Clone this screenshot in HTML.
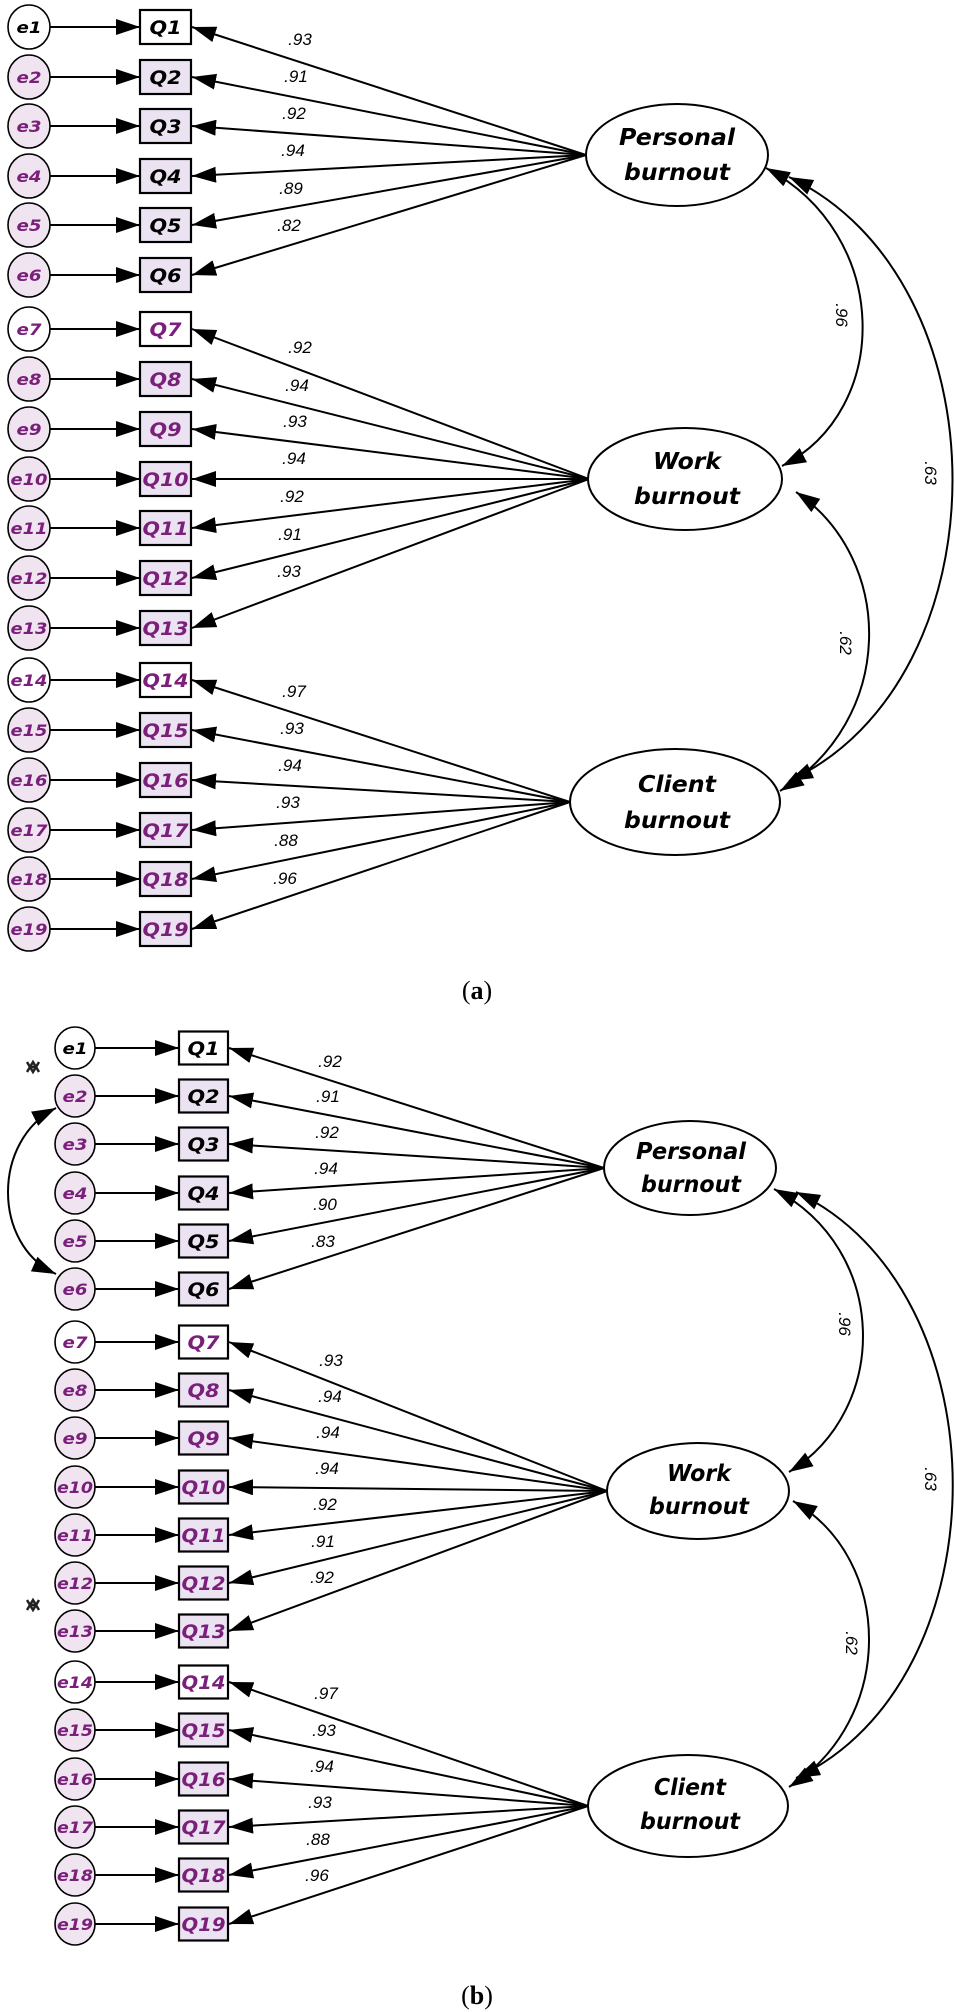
<!DOCTYPE html>
<html><head><meta charset="utf-8"><style>
html,body{margin:0;padding:0;background:#fff;}
svg{display:block}
.e{font-family:"DejaVu Sans","Liberation Sans",sans-serif;font-weight:bold;font-style:italic;font-size:16px;text-anchor:middle}
.q{font-family:"DejaVu Sans","Liberation Sans",sans-serif;font-weight:bold;font-style:italic;font-size:19px;text-anchor:middle}
.l{font-family:"Liberation Sans",sans-serif;font-style:italic;font-size:17px;text-anchor:middle}
.f{font-family:"DejaVu Sans","Liberation Sans",sans-serif;font-weight:bold;font-style:italic;font-size:23px;text-anchor:middle}
.c{font-family:"Liberation Serif",serif;font-size:26px;text-anchor:middle}
.p{fill:#7a1f7a}
.ce{fill:#f0e4f0;stroke:#000;stroke-width:1.6}
.cw{fill:#fff;stroke:#000;stroke-width:1.6}
.bf{fill:#ebe3f1;stroke:#000;stroke-width:2.2}
.bw{fill:#fff;stroke:#000;stroke-width:2.2}
.a{stroke:#000;stroke-width:2;fill:none;marker-end:url(#ah)}
.v{stroke:#000;stroke-width:2;fill:none;marker-end:url(#ah);marker-start:url(#ah)}
.el{fill:#fff;stroke:#000;stroke-width:2}
</style></head><body>
<svg width="955" height="2012" viewBox="0 0 955 2012" xmlns="http://www.w3.org/2000/svg">
<defs><marker id="ah" viewBox="0 0 24 16" markerWidth="24" markerHeight="16" refX="24" refY="8" orient="auto-start-reverse" markerUnits="userSpaceOnUse"><path d="M0,0L24,8L0,16z" fill="#000"/></marker></defs>

<!-- ===== (a) ===== -->
<g>
<line class="a" x1="586" y1="155" x2="192" y2="27"/>
<line class="a" x1="586" y1="155" x2="192" y2="77"/>
<line class="a" x1="586" y1="155" x2="192" y2="126"/>
<line class="a" x1="586" y1="155" x2="192" y2="176"/>
<line class="a" x1="586" y1="155" x2="192" y2="225"/>
<line class="a" x1="586" y1="155" x2="192" y2="275"/>
<line class="a" x1="589" y1="479" x2="192" y2="329"/>
<line class="a" x1="589" y1="479" x2="192" y2="379"/>
<line class="a" x1="589" y1="479" x2="192" y2="429"/>
<line class="a" x1="589" y1="479" x2="192" y2="479"/>
<line class="a" x1="589" y1="479" x2="192" y2="528"/>
<line class="a" x1="589" y1="479" x2="192" y2="578"/>
<line class="a" x1="589" y1="479" x2="192" y2="628"/>
<line class="a" x1="570" y1="802" x2="192" y2="680"/>
<line class="a" x1="570" y1="802" x2="192" y2="730"/>
<line class="a" x1="570" y1="802" x2="192" y2="780"/>
<line class="a" x1="570" y1="802" x2="192" y2="830"/>
<line class="a" x1="570" y1="802" x2="192" y2="879"/>
<line class="a" x1="570" y1="802" x2="192" y2="929"/>
<text class="l" x="300" y="45">.93</text>
<text class="l" x="296" y="82">.91</text>
<text class="l" x="294" y="119">.92</text>
<text class="l" x="293" y="156">.94</text>
<text class="l" x="291" y="194">.89</text>
<text class="l" x="289" y="231">.82</text>
<text class="l" x="300" y="353">.92</text>
<text class="l" x="297" y="391">.94</text>
<text class="l" x="295" y="427">.93</text>
<text class="l" x="294" y="464">.94</text>
<text class="l" x="292" y="502">.92</text>
<text class="l" x="290" y="540">.91</text>
<text class="l" x="289" y="577">.93</text>
<text class="l" x="294" y="697">.97</text>
<text class="l" x="292" y="734">.93</text>
<text class="l" x="290" y="771">.94</text>
<text class="l" x="288" y="808">.93</text>
<text class="l" x="286" y="846">.88</text>
<text class="l" x="285" y="884">.96</text>
<line class="a" x1="50" y1="27" x2="140" y2="27"/><line class="a" x1="50" y1="77" x2="140" y2="77"/><line class="a" x1="50" y1="126" x2="140" y2="126"/><line class="a" x1="50" y1="176" x2="140" y2="176"/><line class="a" x1="50" y1="225" x2="140" y2="225"/><line class="a" x1="50" y1="275" x2="140" y2="275"/>
<line class="a" x1="50" y1="329" x2="140" y2="329"/><line class="a" x1="50" y1="379" x2="140" y2="379"/><line class="a" x1="50" y1="429" x2="140" y2="429"/><line class="a" x1="50" y1="479" x2="140" y2="479"/><line class="a" x1="50" y1="528" x2="140" y2="528"/><line class="a" x1="50" y1="578" x2="140" y2="578"/><line class="a" x1="50" y1="628" x2="140" y2="628"/>
<line class="a" x1="50" y1="680" x2="140" y2="680"/><line class="a" x1="50" y1="730" x2="140" y2="730"/><line class="a" x1="50" y1="780" x2="140" y2="780"/><line class="a" x1="50" y1="830" x2="140" y2="830"/><line class="a" x1="50" y1="879" x2="140" y2="879"/><line class="a" x1="50" y1="929" x2="140" y2="929"/>
<ellipse class="cw" cx="29" cy="27" rx="21" ry="22"/><text class="e" x="29" y="33" textLength="25" lengthAdjust="spacingAndGlyphs">e1</text>
<ellipse class="ce" cx="29" cy="77" rx="21" ry="22"/><text class="e p" x="29" y="83" textLength="25" lengthAdjust="spacingAndGlyphs">e2</text>
<ellipse class="ce" cx="29" cy="126" rx="21" ry="22"/><text class="e p" x="29" y="132" textLength="25" lengthAdjust="spacingAndGlyphs">e3</text>
<ellipse class="ce" cx="29" cy="176" rx="21" ry="22"/><text class="e p" x="29" y="182" textLength="25" lengthAdjust="spacingAndGlyphs">e4</text>
<ellipse class="ce" cx="29" cy="225" rx="21" ry="22"/><text class="e p" x="29" y="231" textLength="25" lengthAdjust="spacingAndGlyphs">e5</text>
<ellipse class="ce" cx="29" cy="275" rx="21" ry="22"/><text class="e p" x="29" y="281" textLength="25" lengthAdjust="spacingAndGlyphs">e6</text>
<ellipse class="cw" cx="29" cy="329" rx="21" ry="22"/><text class="e p" x="29" y="335" textLength="25" lengthAdjust="spacingAndGlyphs">e7</text>
<ellipse class="ce" cx="29" cy="379" rx="21" ry="22"/><text class="e p" x="29" y="385" textLength="25" lengthAdjust="spacingAndGlyphs">e8</text>
<ellipse class="ce" cx="29" cy="429" rx="21" ry="22"/><text class="e p" x="29" y="435" textLength="25" lengthAdjust="spacingAndGlyphs">e9</text>
<ellipse class="ce" cx="29" cy="479" rx="21" ry="22"/><text class="e p" x="29" y="485" textLength="37" lengthAdjust="spacingAndGlyphs">e10</text>
<ellipse class="ce" cx="29" cy="528" rx="21" ry="22"/><text class="e p" x="29" y="534" textLength="37" lengthAdjust="spacingAndGlyphs">e11</text>
<ellipse class="ce" cx="29" cy="578" rx="21" ry="22"/><text class="e p" x="29" y="584" textLength="37" lengthAdjust="spacingAndGlyphs">e12</text>
<ellipse class="ce" cx="29" cy="628" rx="21" ry="22"/><text class="e p" x="29" y="634" textLength="37" lengthAdjust="spacingAndGlyphs">e13</text>
<ellipse class="cw" cx="29" cy="680" rx="21" ry="22"/><text class="e p" x="29" y="686" textLength="37" lengthAdjust="spacingAndGlyphs">e14</text>
<ellipse class="ce" cx="29" cy="730" rx="21" ry="22"/><text class="e p" x="29" y="736" textLength="37" lengthAdjust="spacingAndGlyphs">e15</text>
<ellipse class="ce" cx="29" cy="780" rx="21" ry="22"/><text class="e p" x="29" y="786" textLength="37" lengthAdjust="spacingAndGlyphs">e16</text>
<ellipse class="ce" cx="29" cy="830" rx="21" ry="22"/><text class="e p" x="29" y="836" textLength="37" lengthAdjust="spacingAndGlyphs">e17</text>
<ellipse class="ce" cx="29" cy="879" rx="21" ry="22"/><text class="e p" x="29" y="885" textLength="37" lengthAdjust="spacingAndGlyphs">e18</text>
<ellipse class="ce" cx="29" cy="929" rx="21" ry="22"/><text class="e p" x="29" y="935" textLength="37" lengthAdjust="spacingAndGlyphs">e19</text>
<rect class="bw" x="140" y="10" width="51" height="34"/><text class="q" x="165.5" y="34" textLength="32" lengthAdjust="spacingAndGlyphs">Q1</text>
<rect class="bf" x="140" y="60" width="51" height="34"/><text class="q" x="165.5" y="84" textLength="32" lengthAdjust="spacingAndGlyphs">Q2</text>
<rect class="bf" x="140" y="109" width="51" height="34"/><text class="q" x="165.5" y="133" textLength="32" lengthAdjust="spacingAndGlyphs">Q3</text>
<rect class="bf" x="140" y="159" width="51" height="34"/><text class="q" x="165.5" y="183" textLength="32" lengthAdjust="spacingAndGlyphs">Q4</text>
<rect class="bf" x="140" y="208" width="51" height="34"/><text class="q" x="165.5" y="232" textLength="32" lengthAdjust="spacingAndGlyphs">Q5</text>
<rect class="bf" x="140" y="258" width="51" height="34"/><text class="q" x="165.5" y="282" textLength="32" lengthAdjust="spacingAndGlyphs">Q6</text>
<rect class="bw" x="140" y="312" width="51" height="34"/><text class="q p" x="165.5" y="336" textLength="32" lengthAdjust="spacingAndGlyphs">Q7</text>
<rect class="bf" x="140" y="362" width="51" height="34"/><text class="q p" x="165.5" y="386" textLength="32" lengthAdjust="spacingAndGlyphs">Q8</text>
<rect class="bf" x="140" y="412" width="51" height="34"/><text class="q p" x="165.5" y="436" textLength="32" lengthAdjust="spacingAndGlyphs">Q9</text>
<rect class="bf" x="140" y="462" width="51" height="34"/><text class="q p" x="165.5" y="486" textLength="46" lengthAdjust="spacingAndGlyphs">Q10</text>
<rect class="bf" x="140" y="511" width="51" height="34"/><text class="q p" x="165.5" y="535" textLength="46" lengthAdjust="spacingAndGlyphs">Q11</text>
<rect class="bf" x="140" y="561" width="51" height="34"/><text class="q p" x="165.5" y="585" textLength="46" lengthAdjust="spacingAndGlyphs">Q12</text>
<rect class="bf" x="140" y="611" width="51" height="34"/><text class="q p" x="165.5" y="635" textLength="46" lengthAdjust="spacingAndGlyphs">Q13</text>
<rect class="bw" x="140" y="663" width="51" height="34"/><text class="q p" x="165.5" y="687" textLength="46" lengthAdjust="spacingAndGlyphs">Q14</text>
<rect class="bf" x="140" y="713" width="51" height="34"/><text class="q p" x="165.5" y="737" textLength="46" lengthAdjust="spacingAndGlyphs">Q15</text>
<rect class="bf" x="140" y="763" width="51" height="34"/><text class="q p" x="165.5" y="787" textLength="46" lengthAdjust="spacingAndGlyphs">Q16</text>
<rect class="bf" x="140" y="813" width="51" height="34"/><text class="q p" x="165.5" y="837" textLength="46" lengthAdjust="spacingAndGlyphs">Q17</text>
<rect class="bf" x="140" y="862" width="51" height="34"/><text class="q p" x="165.5" y="886" textLength="46" lengthAdjust="spacingAndGlyphs">Q18</text>
<rect class="bf" x="140" y="912" width="51" height="34"/><text class="q p" x="165.5" y="936" textLength="46" lengthAdjust="spacingAndGlyphs">Q19</text>
<ellipse class="el" cx="677" cy="155" rx="91" ry="51"/>
<text class="f" x="677" y="145" textLength="116" lengthAdjust="spacingAndGlyphs">Personal</text>
<text class="f" x="677" y="180" textLength="106" lengthAdjust="spacingAndGlyphs">burnout</text>
<ellipse class="el" cx="685" cy="479" rx="97" ry="51"/>
<text class="f" x="687" y="469" textLength="68" lengthAdjust="spacingAndGlyphs">Work</text>
<text class="f" x="687" y="504" textLength="106" lengthAdjust="spacingAndGlyphs">burnout</text>
<ellipse class="el" cx="675" cy="802" rx="105" ry="53"/>
<text class="f" x="677" y="792" textLength="78" lengthAdjust="spacingAndGlyphs">Client</text>
<text class="f" x="677" y="828" textLength="106" lengthAdjust="spacingAndGlyphs">burnout</text>
<path class="v" d="M766,168 C892,235 892,410 782,466"/>
<path class="v" d="M796,492 C896,560 896,720 780,791"/>
<path class="v" d="M789,177 C1007,280 1007,680 789,781"/>
<text class="l" transform="translate(836,315) rotate(90)">.96</text>
<text class="l" transform="translate(840,643) rotate(90)">.62</text>
<text class="l" transform="translate(925,473) rotate(90)">.63</text>
<text class="c" x="477" y="999">(<tspan font-weight="bold">a</tspan>)</text>
</g>

<!-- ===== (b) ===== -->
<g>
<line class="a" x1="604" y1="1168" x2="229" y2="1048"/>
<line class="a" x1="604" y1="1168" x2="229" y2="1096"/>
<line class="a" x1="604" y1="1168" x2="229" y2="1144"/>
<line class="a" x1="604" y1="1168" x2="229" y2="1193"/>
<line class="a" x1="604" y1="1168" x2="229" y2="1241"/>
<line class="a" x1="604" y1="1168" x2="229" y2="1289"/>
<line class="a" x1="607" y1="1491" x2="229" y2="1342"/>
<line class="a" x1="607" y1="1491" x2="229" y2="1390"/>
<line class="a" x1="607" y1="1491" x2="229" y2="1438"/>
<line class="a" x1="607" y1="1491" x2="229" y2="1487"/>
<line class="a" x1="607" y1="1491" x2="229" y2="1535"/>
<line class="a" x1="607" y1="1491" x2="229" y2="1583"/>
<line class="a" x1="607" y1="1491" x2="229" y2="1631"/>
<line class="a" x1="588" y1="1806" x2="229" y2="1682"/>
<line class="a" x1="588" y1="1806" x2="229" y2="1730"/>
<line class="a" x1="588" y1="1806" x2="229" y2="1779"/>
<line class="a" x1="588" y1="1806" x2="229" y2="1827"/>
<line class="a" x1="588" y1="1806" x2="229" y2="1875"/>
<line class="a" x1="588" y1="1806" x2="229" y2="1924"/>
<text class="l" x="330" y="1067">.92</text>
<text class="l" x="328" y="1102">.91</text>
<text class="l" x="327" y="1138">.92</text>
<text class="l" x="326" y="1174">.94</text>
<text class="l" x="325" y="1210">.90</text>
<text class="l" x="323" y="1247">.83</text>
<text class="l" x="331" y="1366">.93</text>
<text class="l" x="330" y="1402">.94</text>
<text class="l" x="328" y="1438">.94</text>
<text class="l" x="327" y="1474">.94</text>
<text class="l" x="325" y="1510">.92</text>
<text class="l" x="323" y="1547">.91</text>
<text class="l" x="322" y="1583">.92</text>
<text class="l" x="326" y="1699">.97</text>
<text class="l" x="324" y="1736">.93</text>
<text class="l" x="322" y="1772">.94</text>
<text class="l" x="320" y="1808">.93</text>
<text class="l" x="318" y="1845">.88</text>
<text class="l" x="317" y="1881">.96</text>
<line class="a" x1="95" y1="1048" x2="179" y2="1048"/><line class="a" x1="95" y1="1096" x2="179" y2="1096"/><line class="a" x1="95" y1="1144" x2="179" y2="1144"/><line class="a" x1="95" y1="1193" x2="179" y2="1193"/><line class="a" x1="95" y1="1241" x2="179" y2="1241"/><line class="a" x1="95" y1="1289" x2="179" y2="1289"/>
<line class="a" x1="95" y1="1342" x2="179" y2="1342"/><line class="a" x1="95" y1="1390" x2="179" y2="1390"/><line class="a" x1="95" y1="1438" x2="179" y2="1438"/><line class="a" x1="95" y1="1487" x2="179" y2="1487"/><line class="a" x1="95" y1="1535" x2="179" y2="1535"/><line class="a" x1="95" y1="1583" x2="179" y2="1583"/><line class="a" x1="95" y1="1631" x2="179" y2="1631"/>
<line class="a" x1="95" y1="1682" x2="179" y2="1682"/><line class="a" x1="95" y1="1730" x2="179" y2="1730"/><line class="a" x1="95" y1="1779" x2="179" y2="1779"/><line class="a" x1="95" y1="1827" x2="179" y2="1827"/><line class="a" x1="95" y1="1875" x2="179" y2="1875"/><line class="a" x1="95" y1="1924" x2="179" y2="1924"/>
<path class="v" d="M56,1108 C-8,1140 -8,1245 56,1274"/>
<path d="M27,1062 l6,10 l6,-10 M27,1072 l6,-10 l6,10 M30,1067 h6" stroke="#222" stroke-width="2.5" fill="none"/>
<path d="M27,1600 l6,10 l6,-10 M27,1610 l6,-10 l6,10 M30,1605 h6" stroke="#222" stroke-width="2.5" fill="none"/>
<ellipse class="cw" cx="75" cy="1048" rx="20" ry="21"/><text class="e" x="75" y="1054" textLength="25" lengthAdjust="spacingAndGlyphs">e1</text>
<ellipse class="ce" cx="75" cy="1096" rx="20" ry="21"/><text class="e p" x="75" y="1102" textLength="25" lengthAdjust="spacingAndGlyphs">e2</text>
<ellipse class="ce" cx="75" cy="1144" rx="20" ry="21"/><text class="e p" x="75" y="1150" textLength="25" lengthAdjust="spacingAndGlyphs">e3</text>
<ellipse class="ce" cx="75" cy="1193" rx="20" ry="21"/><text class="e p" x="75" y="1199" textLength="25" lengthAdjust="spacingAndGlyphs">e4</text>
<ellipse class="ce" cx="75" cy="1241" rx="20" ry="21"/><text class="e p" x="75" y="1247" textLength="25" lengthAdjust="spacingAndGlyphs">e5</text>
<ellipse class="ce" cx="75" cy="1289" rx="20" ry="21"/><text class="e p" x="75" y="1295" textLength="25" lengthAdjust="spacingAndGlyphs">e6</text>
<ellipse class="cw" cx="75" cy="1342" rx="20" ry="21"/><text class="e p" x="75" y="1348" textLength="25" lengthAdjust="spacingAndGlyphs">e7</text>
<ellipse class="ce" cx="75" cy="1390" rx="20" ry="21"/><text class="e p" x="75" y="1396" textLength="25" lengthAdjust="spacingAndGlyphs">e8</text>
<ellipse class="ce" cx="75" cy="1438" rx="20" ry="21"/><text class="e p" x="75" y="1444" textLength="25" lengthAdjust="spacingAndGlyphs">e9</text>
<ellipse class="ce" cx="75" cy="1487" rx="20" ry="21"/><text class="e p" x="75" y="1493" textLength="36" lengthAdjust="spacingAndGlyphs">e10</text>
<ellipse class="ce" cx="75" cy="1535" rx="20" ry="21"/><text class="e p" x="75" y="1541" textLength="36" lengthAdjust="spacingAndGlyphs">e11</text>
<ellipse class="ce" cx="75" cy="1583" rx="20" ry="21"/><text class="e p" x="75" y="1589" textLength="36" lengthAdjust="spacingAndGlyphs">e12</text>
<ellipse class="ce" cx="75" cy="1631" rx="20" ry="21"/><text class="e p" x="75" y="1637" textLength="36" lengthAdjust="spacingAndGlyphs">e13</text>
<ellipse class="cw" cx="75" cy="1682" rx="20" ry="21"/><text class="e p" x="75" y="1688" textLength="36" lengthAdjust="spacingAndGlyphs">e14</text>
<ellipse class="ce" cx="75" cy="1730" rx="20" ry="21"/><text class="e p" x="75" y="1736" textLength="36" lengthAdjust="spacingAndGlyphs">e15</text>
<ellipse class="ce" cx="75" cy="1779" rx="20" ry="21"/><text class="e p" x="75" y="1785" textLength="36" lengthAdjust="spacingAndGlyphs">e16</text>
<ellipse class="ce" cx="75" cy="1827" rx="20" ry="21"/><text class="e p" x="75" y="1833" textLength="36" lengthAdjust="spacingAndGlyphs">e17</text>
<ellipse class="ce" cx="75" cy="1875" rx="20" ry="21"/><text class="e p" x="75" y="1881" textLength="36" lengthAdjust="spacingAndGlyphs">e18</text>
<ellipse class="ce" cx="75" cy="1924" rx="20" ry="21"/><text class="e p" x="75" y="1930" textLength="36" lengthAdjust="spacingAndGlyphs">e19</text>
<rect class="bw" x="179" y="1031.5" width="49" height="33"/><text class="q" x="203.5" y="1055" textLength="32" lengthAdjust="spacingAndGlyphs">Q1</text>
<rect class="bf" x="179" y="1079.5" width="49" height="33"/><text class="q" x="203.5" y="1103" textLength="32" lengthAdjust="spacingAndGlyphs">Q2</text>
<rect class="bf" x="179" y="1127.5" width="49" height="33"/><text class="q" x="203.5" y="1151" textLength="32" lengthAdjust="spacingAndGlyphs">Q3</text>
<rect class="bf" x="179" y="1176.5" width="49" height="33"/><text class="q" x="203.5" y="1200" textLength="32" lengthAdjust="spacingAndGlyphs">Q4</text>
<rect class="bf" x="179" y="1224.5" width="49" height="33"/><text class="q" x="203.5" y="1248" textLength="32" lengthAdjust="spacingAndGlyphs">Q5</text>
<rect class="bf" x="179" y="1272.5" width="49" height="33"/><text class="q" x="203.5" y="1296" textLength="32" lengthAdjust="spacingAndGlyphs">Q6</text>
<rect class="bw" x="179" y="1325.5" width="49" height="33"/><text class="q p" x="203.5" y="1349" textLength="32" lengthAdjust="spacingAndGlyphs">Q7</text>
<rect class="bf" x="179" y="1373.5" width="49" height="33"/><text class="q p" x="203.5" y="1397" textLength="32" lengthAdjust="spacingAndGlyphs">Q8</text>
<rect class="bf" x="179" y="1421.5" width="49" height="33"/><text class="q p" x="203.5" y="1445" textLength="32" lengthAdjust="spacingAndGlyphs">Q9</text>
<rect class="bf" x="179" y="1470.5" width="49" height="33"/><text class="q p" x="203.5" y="1494" textLength="44" lengthAdjust="spacingAndGlyphs">Q10</text>
<rect class="bf" x="179" y="1518.5" width="49" height="33"/><text class="q p" x="203.5" y="1542" textLength="44" lengthAdjust="spacingAndGlyphs">Q11</text>
<rect class="bf" x="179" y="1566.5" width="49" height="33"/><text class="q p" x="203.5" y="1590" textLength="44" lengthAdjust="spacingAndGlyphs">Q12</text>
<rect class="bf" x="179" y="1614.5" width="49" height="33"/><text class="q p" x="203.5" y="1638" textLength="44" lengthAdjust="spacingAndGlyphs">Q13</text>
<rect class="bw" x="179" y="1665.5" width="49" height="33"/><text class="q p" x="203.5" y="1689" textLength="44" lengthAdjust="spacingAndGlyphs">Q14</text>
<rect class="bf" x="179" y="1713.5" width="49" height="33"/><text class="q p" x="203.5" y="1737" textLength="44" lengthAdjust="spacingAndGlyphs">Q15</text>
<rect class="bf" x="179" y="1762.5" width="49" height="33"/><text class="q p" x="203.5" y="1786" textLength="44" lengthAdjust="spacingAndGlyphs">Q16</text>
<rect class="bf" x="179" y="1810.5" width="49" height="33"/><text class="q p" x="203.5" y="1834" textLength="44" lengthAdjust="spacingAndGlyphs">Q17</text>
<rect class="bf" x="179" y="1858.5" width="49" height="33"/><text class="q p" x="203.5" y="1882" textLength="44" lengthAdjust="spacingAndGlyphs">Q18</text>
<rect class="bf" x="179" y="1907.5" width="49" height="33"/><text class="q p" x="203.5" y="1931" textLength="44" lengthAdjust="spacingAndGlyphs">Q19</text>
<ellipse class="el" cx="690" cy="1168" rx="86" ry="47"/>
<text class="f" x="691" y="1159" textLength="110" lengthAdjust="spacingAndGlyphs">Personal</text>
<text class="f" x="691" y="1192" textLength="100" lengthAdjust="spacingAndGlyphs">burnout</text>
<ellipse class="el" cx="698" cy="1491" rx="91" ry="48"/>
<text class="f" x="699" y="1481" textLength="64" lengthAdjust="spacingAndGlyphs">Work</text>
<text class="f" x="699" y="1514" textLength="100" lengthAdjust="spacingAndGlyphs">burnout</text>
<ellipse class="el" cx="688" cy="1806" rx="100" ry="51"/>
<text class="f" x="690" y="1795" textLength="72" lengthAdjust="spacingAndGlyphs">Client</text>
<text class="f" x="690" y="1829" textLength="100" lengthAdjust="spacingAndGlyphs">burnout</text>
<path class="v" d="M774,1189 C890,1250 890,1410 789,1472"/>
<path class="v" d="M793,1501 C895,1560 895,1720 789,1787"/>
<path class="v" d="M796,1192 C1005,1290 1005,1680 796,1778"/>
<text class="l" transform="translate(839,1324) rotate(90)">.96</text>
<text class="l" transform="translate(846,1643) rotate(90)">.62</text>
<text class="l" transform="translate(925,1479) rotate(90)">.63</text>
<text class="c" x="477" y="2004">(<tspan font-weight="bold">b</tspan>)</text>
</g>
</svg>
</body></html>
